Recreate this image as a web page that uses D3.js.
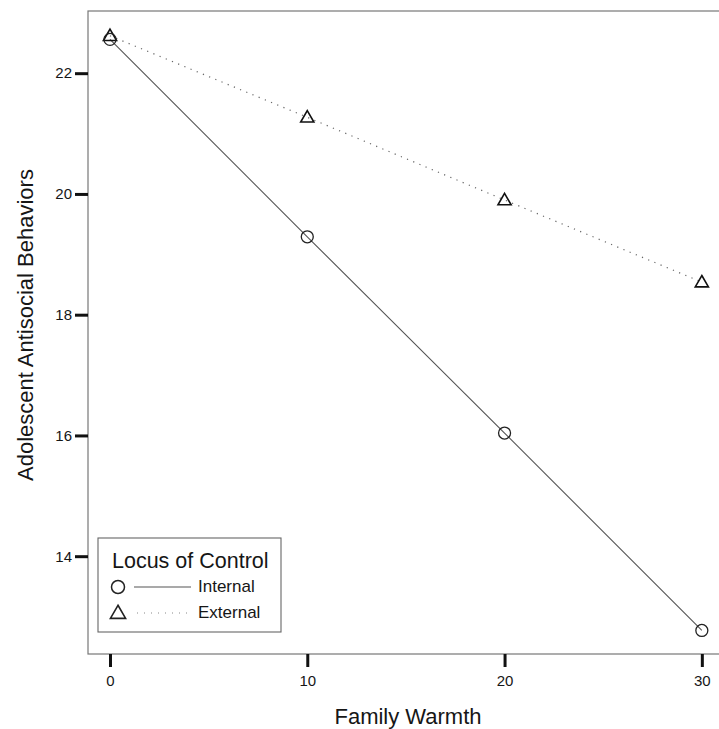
<!DOCTYPE html>
<html><head><meta charset="utf-8">
<script src="https://cdn.jsdelivr.net/npm/d3@7"></script>
<style>body{margin:0;background:#fff}svg{display:block}text{font-family:"Liberation Sans",Arial,sans-serif;fill:#161616}.tk text{font-size:15px !important}</style>
</head><body><svg id="c" width="719" height="729"></svg>
<script>
const warmth = [0, 10, 20, 30];
const internal = [22.56, 19.29, 16.04, 12.77];
const external = [22.62, 21.27, 19.90, 18.54];
const xTicks = [0, 10, 20, 30];
const yTicks = [14, 16, 18, 20, 22];
const seriesNames = ["Internal", "External"];

const svg = d3.select("#c");
const L = 88, R = 719, T = 11, B = 654;
const x = d3.scaleLinear().domain([-1.115, 30.87]).range([L, R]);
const y = d3.scaleLinear().domain([12.38, 23.03]).range([B, T]);

// frame
svg.append("rect").attr("x", L).attr("y", T).attr("width", R - L + 5).attr("height", B - T)
  .attr("fill", "none").attr("stroke", "#777").attr("stroke-width", 1.2);

// y axis
const ya = svg.append("g").attr("class", "tk").attr("transform", `translate(${L},0)`)
  .call(d3.axisLeft(y).tickValues(yTicks).tickSize(13).tickPadding(3).tickFormat(d3.format("d")));
ya.attr("font-size", 15).attr("font-family", null);
ya.select(".domain").remove();
ya.selectAll("line").attr("stroke", "#111").attr("stroke-width", 3);
ya.selectAll("text").attr("fill", "#1a1a1a");

// x axis
const xa = svg.append("g").attr("class", "tk").attr("transform", `translate(0,${B})`)
  .call(d3.axisBottom(x).tickValues(xTicks).tickSize(13).tickPadding(8).tickFormat(d3.format("d")));
xa.attr("font-size", 15).attr("font-family", null);
xa.select(".domain").remove();
xa.selectAll("line").attr("stroke", "#111").attr("stroke-width", 3);
xa.selectAll("text").attr("fill", "#1a1a1a");

// axis titles
svg.append("text").attr("transform", "translate(33,325) rotate(-90)").attr("text-anchor", "middle")
  .style("font-size", "22px").text("Adolescent Antisocial Behaviors");
svg.append("text").attr("x", 408).attr("y", 724).attr("text-anchor", "middle")
  .style("font-size", "22px").text("Family Warmth");

const line = d3.line().x((d, i) => x(warmth[i])).y(d => y(d));
svg.append("path").datum(internal).attr("d", line).attr("fill", "none").attr("stroke", "#555").attr("stroke-width", 1.1);
svg.append("path").datum(external).attr("d", line).attr("fill", "none").attr("stroke", "#666")
  .attr("stroke-width", 1.2).attr("stroke-dasharray", "1.2,5.5");

const tri = d3.symbol().type(d3.symbolTriangle).size(75);
svg.selectAll(".tri").data(external).enter().append("path").attr("class", "tri")
  .attr("d", tri).attr("transform", (d, i) => `translate(${x(warmth[i])},${y(d) + 1})`)
  .attr("fill", "none").attr("stroke", "#111").attr("stroke-width", 1.6);
svg.selectAll(".circ").data(internal).enter().append("circle").attr("class", "circ")
  .attr("cx", (d, i) => x(warmth[i])).attr("cy", d => y(d)).attr("r", 6)
  .attr("fill", "none").attr("stroke", "#222").attr("stroke-width", 1.3);

// legend
const lg = svg.append("g");
lg.append("rect").attr("x", 98).attr("y", 538).attr("width", 183).attr("height", 94)
  .attr("fill", "#fff").attr("stroke", "#666").attr("stroke-width", 1.1);
lg.append("text").attr("x", 112).attr("y", 568).style("font-size", "21.5px")
  .attr("fill", "#111").text("Locus of Control");
lg.append("circle").attr("cx", 118).attr("cy", 587).attr("r", 6.5).attr("fill", "none").attr("stroke", "#222").attr("stroke-width", 1.5);
lg.append("line").attr("x1", 134).attr("x2", 191).attr("y1", 587).attr("y2", 587).attr("stroke", "#555").attr("stroke-width", 1.1);
lg.append("text").attr("x", 198).attr("y", 592).style("font-size", "17px").text(seriesNames[0]);
lg.append("path").attr("d", d3.symbol().type(d3.symbolTriangle).size(100)).attr("transform", "translate(118,614)")
  .attr("fill", "none").attr("stroke", "#222").attr("stroke-width", 1.6);
lg.append("line").attr("x1", 137).attr("x2", 191).attr("y1", 613).attr("y2", 613).attr("stroke", "#888")
  .attr("stroke-width", 1).attr("stroke-dasharray", "1,6");
lg.append("text").attr("x", 198).attr("y", 618).style("font-size", "17px").text(seriesNames[1]);
</script></body></html>
